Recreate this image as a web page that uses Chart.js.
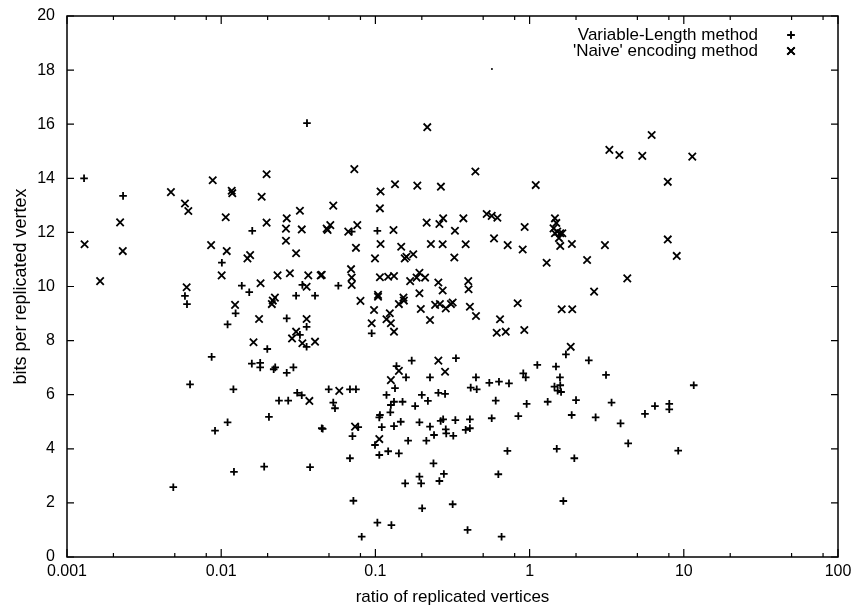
<!DOCTYPE html>
<html>
<head>
<meta charset="utf-8">
<script src="https://cdn.jsdelivr.net/npm/chart.js@4/dist/chart.umd.min.js"></script>
<style>
  html, body { margin: 0; padding: 0; background: #fff; }
  canvas { display: block; }
</style>
</head>
<body>
<canvas id="c" width="853" height="608"></canvas>
<script>
// ---------- data ----------
const seriesNames = ["Variable-Length method", "'Naive' encoding method"];
const xAxisTitle = "ratio of replicated vertices";
const yAxisTitle = "bits per replicated vertex";
const xMajorTicks = [0.001, 0.01, 0.1, 1, 10, 100];
const xTickLabels = ["0.001", "0.01", "0.1", "1", "10", "100"];
const xMinorTicks = [0.002, 0.005, 0.008, 0.02, 0.05, 0.08, 0.2, 0.5, 0.8, 2, 5, 8, 20, 50, 80];
const yTicks = [0, 2, 4, 6, 8, 10, 12, 14, 16, 18, 20];

// Variable-Length method (+): [ratio, bits]
const variableLength = [
  [0.00129,14.0],[0.00231,13.35],[0.036,16.04],[0.0159,12.06],[0.0101,10.88],[0.0136,10.03],
  [0.0152,9.79],[0.0336,10.06],[0.0306,9.66],[0.0406,9.66],[0.00582,9.65],[0.006,9.35],
  [0.0124,9.01],[0.011,8.6],[0.0266,8.82],[0.0358,8.51],[0.0324,8.21],[0.0358,7.77],
  [0.0199,7.69],[0.00867,7.4],[0.0158,7.15],[0.0179,7.18],[0.0179,7.01],[0.0219,6.94],
  [0.0224,7.01],[0.0266,6.81],[0.0294,7.01],[0.00628,6.38],[0.012,6.2],[0.0237,5.78],
  [0.0272,5.78],[0.0311,6.07],[0.0333,5.98],[0.011,4.98],[0.0204,5.18],[0.00912,4.67],
  [0.0455,4.74],[0.019,3.34],[0.0121,3.15],[0.0377,3.32],[0.00489,2.58],[0.0498,6.2],
  [0.103,12.06],[0.0702,12.03],[0.0575,10.03],[0.0946,8.27],[0.172,7.26],[0.333,7.35],
  [0.137,7.06],[0.158,6.64],[0.226,6.64],[0.449,6.64],[0.415,6.26],[0.454,6.2],
  [0.548,6.44],[0.633,6.48],[0.735,6.42],[0.91,6.79],[0.944,6.64],[1.122,7.1],
  [1.483,7.04],[1.72,7.49],[2.42,7.27],[1.574,6.64],[1.45,6.3],[1.52,6.15],[1.58,6.35],
  [1.6,6.1],[2.0,5.8],[1.31,5.74],[0.957,5.66],[0.603,5.78],[1.875,5.25],[0.845,5.21],
  [0.568,5.13],[1.5,4.0],[1.95,3.65],[0.718,3.92],[0.627,3.06],[1.655,2.07],[0.658,0.75],
  [0.396,1.0],[0.317,1.95],[0.201,1.8],[0.127,1.18],[0.103,1.27],[0.0815,0.75],[0.072,2.08],
  [0.0684,3.65],[0.238,3.46],[0.193,2.97],[0.198,2.72],[0.278,3.07],[0.26,2.81],[0.156,2.72],
  [0.0684,6.2],[0.0748,6.2],[0.0533,5.71],[0.0547,5.5],[0.071,4.47],[0.0774,4.8],
  [0.107,5.25],[0.106,5.16],[0.11,4.8],[0.0994,4.14],[0.106,3.77],[0.121,3.91],[0.142,3.83],
  [0.163,4.3],[0.132,4.84],[0.146,5.0],[0.193,4.98],[0.226,4.82],[0.214,4.3],[0.24,4.51],
  [0.265,5.03],[0.275,5.09],[0.286,4.72],[0.288,4.57],[0.32,4.48],[0.33,5.06],[0.385,4.7],
  [0.41,4.76],[0.41,5.09],[0.132,5.74],[0.15,5.74],[0.126,5.62],[0.118,5.99],[0.134,6.24],
  [0.181,5.58],[0.2,5.99],[0.219,5.77],[0.256,6.07],[0.283,6.03],[0.125,5.35],[0.0449,4.76],
  [3.13,6.73],[3.4,5.71],[2.68,5.16],[3.89,4.94],[4.36,4.2],[5.6,5.29],[6.5,5.58],
  [8.05,5.66],[8.05,5.46],[9.2,3.93],[11.6,6.35]
];

// 'Naive' encoding method (x): [ratio, bits]
const naiveEncoding = [
  [0.0013,11.56],[0.00164,10.2],[0.00221,12.37],[0.0023,11.31],[0.00472,13.49],[0.00582,13.07],
  [0.00612,12.79],[0.00597,9.97],[0.00881,13.93],[0.0086,11.53],[0.0107,12.56],[0.01086,11.31],
  [0.01007,10.41],[0.0117,13.54],[0.0118,13.45],[0.0148,11.04],[0.0154,11.16],[0.0183,13.32],
  [0.0197,14.15],[0.0197,12.36],[0.018,10.12],[0.0223,9.59],[0.0232,10.41],[0.0266,12.52],
  [0.0263,12.14],[0.0263,11.69],[0.0306,11.23],[0.0279,10.49],[0.0324,12.8],[0.0333,12.11],
  [0.0367,10.41],[0.0358,9.99],[0.0442,10.41],[0.0483,12.14],
  [0.0123,9.32],[0.0216,9.48],[0.0213,9.35],[0.0176,8.8],[0.0358,8.8],[0.0306,8.33],
  [0.0288,8.08],[0.0162,7.94],[0.0336,7.9],[0.0406,7.96],[0.0373,5.77],
  [0.217,15.89],[0.073,14.34],[0.445,14.25],[1.096,13.75],[0.108,13.51],[0.134,13.78],
  [0.187,13.73],[0.266,13.69],[0.0533,12.99],[0.107,12.89],[0.049,12.09],[0.051,12.27],
  [0.0667,12.03],[0.0763,12.27],[0.0748,11.43],[0.131,12.09],[0.108,11.57],[0.147,11.47],
  [0.0994,11.04],[0.155,11.04],[0.159,11.1],[0.176,11.19],[0.215,12.36],[0.26,12.31],
  [0.275,12.52],[0.229,11.57],[0.273,11.56],[0.372,12.52],[0.328,12.06],[0.385,11.56],
  [0.325,11.07],[0.527,12.68],[0.568,12.61],[0.618,12.54],[0.588,11.78],[0.721,11.53],
  [0.902,11.37],[0.929,12.2],[1.29,10.88],
  [1.46,12.52],[1.49,12.35],[1.43,12.15],[1.46,11.97],[1.51,12.03],[1.58,11.97],[1.63,11.97],
  [1.55,11.79],[1.58,11.5],[1.88,11.57],[2.36,10.98],
  [0.0449,10.43],[0.0695,10.64],[0.0702,10.33],[0.0702,10.06],[0.107,10.34],[0.121,10.36],
  [0.132,10.39],[0.168,10.2],[0.193,10.51],[0.185,10.33],[0.21,10.33],[0.256,10.15],
  [0.4,10.2],[0.402,9.9],[0.273,9.85],[0.104,9.69],[0.193,9.75],[0.152,9.59],[0.08,9.47],
  [0.104,9.62],[0.098,9.13],[0.124,9.01],[0.118,8.79],[0.126,8.64],[0.132,8.33],[0.0946,8.64],
  [0.142,9.35],[0.153,9.48],[0.197,9.17],[0.226,8.76],[0.244,9.32],[0.262,9.35],[0.286,9.19],
  [0.309,9.35],[0.317,9.41],[0.41,9.25],[0.449,8.91],[0.643,8.79],[0.612,8.29],[0.7,8.33],
  [0.837,9.38],[0.924,8.39],[1.615,9.16],[1.89,9.16],[1.848,7.77],[0.256,7.26],[0.283,6.85],
  [0.142,6.88],[0.126,6.54],[0.0583,6.14],[0.0738,4.82],[0.106,4.36],
  [6.19,15.6],[3.29,15.05],[3.82,14.86],[5.38,14.83],[11.35,14.8],[7.87,13.87],[7.87,11.74],
  [9.0,11.13],[3.08,11.53],[4.3,10.3],[2.62,9.81]
];

// stray dot visible in the reference
const strayDot = [[0.57, 18.04]];

// ---------- chart ----------
const FAMILY = "'Liberation Sans', Arial, Helvetica, sans-serif";
const TICK_FONT = { family: FAMILY, size: 16 };
const TEXT_FONT = { family: FAMILY, size: 17 };
const YTITLE_FONT = { family: FAMILY, size: 18 };
const toXY = a => a.map(p => ({ x: p[0], y: p[1] }));

const framePlugin = {
  id: 'frame',
  afterDraw(chart) {
    const { ctx, chartArea: a, scales } = chart;
    const xs = scales.x, ys = scales.y;
    ctx.save();
    ctx.strokeStyle = '#000';
    ctx.lineWidth = 1.5;
    ctx.strokeRect(a.left, a.top, a.right - a.left, a.bottom - a.top);
    ctx.lineWidth = 1.2;
    ctx.beginPath();
    yTicks.forEach(v => {
      const y = ys.getPixelForValue(v);
      ctx.moveTo(a.left, y); ctx.lineTo(a.left + 7, y);
      ctx.moveTo(a.right, y); ctx.lineTo(a.right - 7, y);
    });
    xMajorTicks.forEach(v => {
      const x = xs.getPixelForValue(v);
      ctx.moveTo(x, a.bottom); ctx.lineTo(x, a.bottom - 8);
      ctx.moveTo(x, a.top); ctx.lineTo(x, a.top + 8);
    });
    xMinorTicks.forEach(v => {
      const x = xs.getPixelForValue(v);
      ctx.moveTo(x, a.bottom); ctx.lineTo(x, a.bottom - 4);
      ctx.moveTo(x, a.top); ctx.lineTo(x, a.top + 4);
    });
    ctx.stroke();

    // legend (inside, top right)
    ctx.fillStyle = '#000';
    ctx.font = TEXT_FONT.size + 'px ' + FAMILY;
    ctx.textAlign = 'right';
    ctx.textBaseline = 'middle';
    const tx = a.right - 80, mx = a.right - 47;
    const rows = [a.top + 19, a.top + 35];
    chart.data.datasets.slice(0, 2).forEach((ds, i) => {
      ctx.fillText(ds.label, tx, rows[i]);
      Chart.helpers.drawPoint(ctx, {
        pointStyle: ds.pointStyle, radius: ds.pointRadius, rotation: 0, borderWidth: ds.borderWidth
      }, mx, rows[i]);
      ctx.strokeStyle = '#000';
      ctx.lineWidth = ds.borderWidth;
      ctx.stroke();
    });
    ctx.restore();
  }
};

new Chart(document.getElementById('c'), {
  type: 'scatter',
  data: {
    datasets: [
      { label: seriesNames[0], data: toXY(variableLength), pointStyle: 'cross', pointRadius: 3.8,
        borderColor: '#000', backgroundColor: '#000', borderWidth: 1.8 },
      { label: seriesNames[1], data: toXY(naiveEncoding), pointStyle: 'crossRot', pointRadius: 5.2,
        borderColor: '#000', backgroundColor: '#000', borderWidth: 1.8 },
      { label: '', data: toXY(strayDot), pointStyle: 'circle', pointRadius: 1,
        borderColor: '#000', backgroundColor: '#000', borderWidth: 0 }
    ]
  },
  options: {
    responsive: false,
    animation: false,
    devicePixelRatio: 1,
    layout: { padding: { top: 16, right: 15, left: 0, bottom: 0 } },
    plugins: { legend: { display: false }, tooltip: { enabled: false } },
    scales: {
      x: {
        type: 'logarithmic', min: 0.001, max: 100,
        afterBuildTicks: s => { s.ticks = xMajorTicks.map(v => ({ value: v })); },
        afterFit: s => { s.height = 51; s.paddingLeft = 0; s.paddingRight = 0; },
        ticks: {
          color: '#000', font: TICK_FONT, padding: 5, maxRotation: 0, autoSkip: false,
          callback: (v) => { const i = xMajorTicks.findIndex(t => Math.abs(t - v) / t < 1e-6); return i >= 0 ? xTickLabels[i] : ''; }
        },
        grid: { display: false, drawTicks: false },
        border: { display: false },
        title: { display: true, text: xAxisTitle, color: '#000', font: TEXT_FONT, padding: { top: 0, bottom: 0 } }
      },
      y: {
        type: 'linear', min: 0, max: 20,
        afterBuildTicks: s => { s.ticks = yTicks.map(v => ({ value: v })); },
        afterFit: s => { s.width = 67; s.paddingTop = 0; s.paddingBottom = 0; },
        ticks: { color: '#000', font: TICK_FONT, padding: 12 },
        grid: { display: false, drawTicks: false },
        border: { display: false },
        title: { display: true, text: yAxisTitle, color: '#000', font: YTITLE_FONT, padding: { top: 10, bottom: 0 } }
      }
    }
  },
  plugins: [framePlugin]
});
</script>
</body>
</html>
